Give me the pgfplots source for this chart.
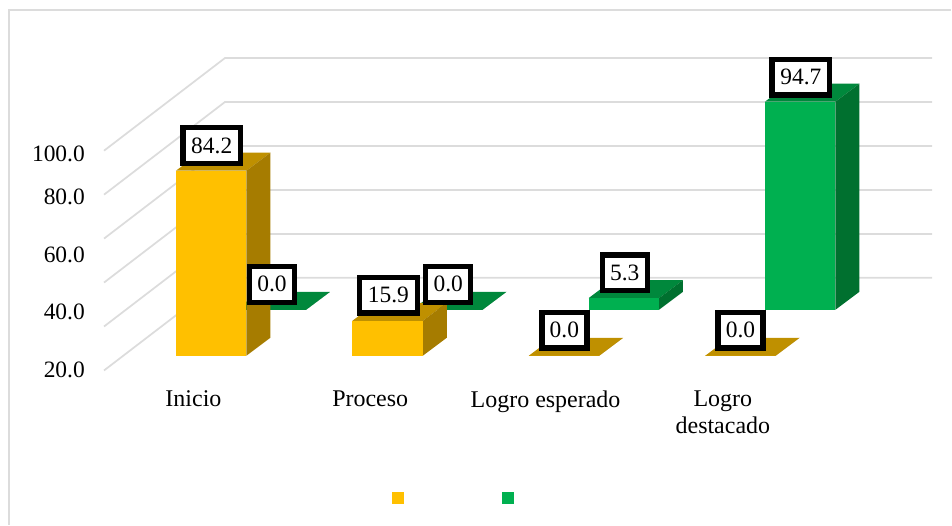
\documentclass[border=0pt]{standalone}
\usepackage{pgfplots}
\pgfplotsset{compat=1.18}
\usepackage{pgfplotstable}
\usepackage{fontspec}
\setmainfont{Liberation Serif}
\definecolor{goldF}{HTML}{FFC000}
\definecolor{goldT}{HTML}{BF9000}
\definecolor{goldS}{HTML}{A67C00}
\definecolor{greenF}{HTML}{00B050}
\definecolor{greenT}{HTML}{00883C}
\definecolor{greenS}{HTML}{00702F}
\definecolor{gridc}{HTML}{DCDCDC}
% x is in picture pixels across; y is in data units, 2.2 px per unit.
% #1 left x, #2 floor in units, #3 value, #4 front, #5 top, #6 side
\newcommand{\threedbar}[6]{%
  \pgfmathsetmacro{\xa}{#1}%
  \pgfmathsetmacro{\xb}{#1+70.5}%
  \pgfmathsetmacro{\xc}{#1+24}%
  \pgfmathsetmacro{\xd}{#1+94.5}%
  \pgfmathsetmacro{\ya}{#2}%
  \pgfmathsetmacro{\yb}{#2+#3}%
  \pgfmathsetmacro{\yc}{#2+8.18}%
  \pgfmathsetmacro{\yd}{#2+#3+8.18}%
  \edef\temp{%
    \noexpand\addplot[fill=#5,draw=none] coordinates {(\xa,\yb) (\xb,\yb) (\xd,\yd) (\xc,\yd)} --cycle;
    \noexpand\addplot[fill=#6,draw=none] coordinates {(\xb,\ya) (\xd,\yc) (\xd,\yd) (\xb,\yb)} --cycle;
    \noexpand\addplot[fill=#4,draw=none] coordinates {(\xa,\ya) (\xb,\ya) (\xb,\yb) (\xa,\yb)} --cycle;
  }\temp
}
\newcommand{\gridl}[1]{%
  \pgfmathsetmacro{\ya}{#1}%
  \pgfmathsetmacro{\yb}{#1-42.14}%
  \edef\temp{\noexpand\addplot[gridc,line width=1.3pt] coordinates {(933,\ya) (225,\ya) (104,\yb)};}\temp
}
\tikzset{lab/.style={draw=black,fill=white,line width=4pt,inner sep=0pt,
  minimum width=43.3pt,minimum height=26.8pt,font=\fontsize{17.6}{20}\selectfont}}
\begin{document}
\begin{tikzpicture}
\begin{axis}[
  scale only axis,width=714pt,height=393.75pt,
  xmin=0,xmax=952,ymin=-76.818,ymax=161.818,
  axis line style={draw=none},
  major tick length=0pt,
  ytick={-6.4,20,45.9,72.3,91.8},
  yticklabels={20.0,40.0,60.0,80.0,100.0},
  yticklabel style={anchor=east,xshift=63.75pt,inner sep=0pt,font=\fontsize{17.6}{20}\selectfont},
  xtick={193.5,370.5,546,723.5},
  xticklabels={Inicio,Proceso,Logro esperado,Logro\\destacado},
  xticklabel style={anchor=north,align=center,yshift=100.5pt,inner sep=0pt,
    font=\fontsize{18}{20}\selectfont},
  clip=false,
]
% frame
\addplot[gridc,line width=1.3pt] coordinates {(9,-76.818) (9,157.3) (952,157.3)};
% grid
\gridl{135.45}\gridl{115.45}\gridl{95.45}\gridl{75.45}\gridl{55.45}\gridl{35.45}
% series 2 (floor 20.9)
\threedbar{235.7}{20.9}{0}{greenT}{greenT}{greenS}
\threedbar{412.3}{20.9}{0}{greenT}{greenT}{greenS}
\threedbar{589}{20.9}{5.3}{greenF}{greenT}{greenS}
\threedbar{765.6}{20.9}{94.7}{greenF}{greenT}{greenS}
% series 1 (floor 0)
\threedbar{176}{0}{84.2}{goldF}{goldT}{goldS}
\threedbar{352.6}{0}{15.9}{goldF}{goldT}{goldS}
\threedbar{529.2}{0}{0}{goldF}{goldT}{goldS}
\threedbar{705.8}{0}{0}{goldF}{goldT}{goldS}
% legend keys
\addplot[only marks,mark=square*,mark size=4.3pt,color=goldF] coordinates {(398.3,-64.5)};
\addplot[only marks,mark=square*,mark size=4.3pt,color=greenF] coordinates {(508.3,-64.5)};
% data labels
\node[lab] at (axis cs:211.8,95.7) {84.2};
\node[lab,minimum width=33.8pt] at (axis cs:272.2,32.5) {0.0};
\node[lab] at (axis cs:388.6,27.6) {15.9};
\node[lab,minimum width=33.8pt] at (axis cs:448.6,32.5) {0.0};
\node[lab,minimum width=33.8pt] at (axis cs:564.8,11.6) {0.0};
\node[lab,minimum width=33.8pt] at (axis cs:625.2,37.7) {5.3};
\node[lab,minimum width=33.8pt] at (axis cs:741.2,11.6) {0.0};
\node[lab] at (axis cs:801.6,126.8) {94.7};
\end{axis}
\end{tikzpicture}
\end{document}
